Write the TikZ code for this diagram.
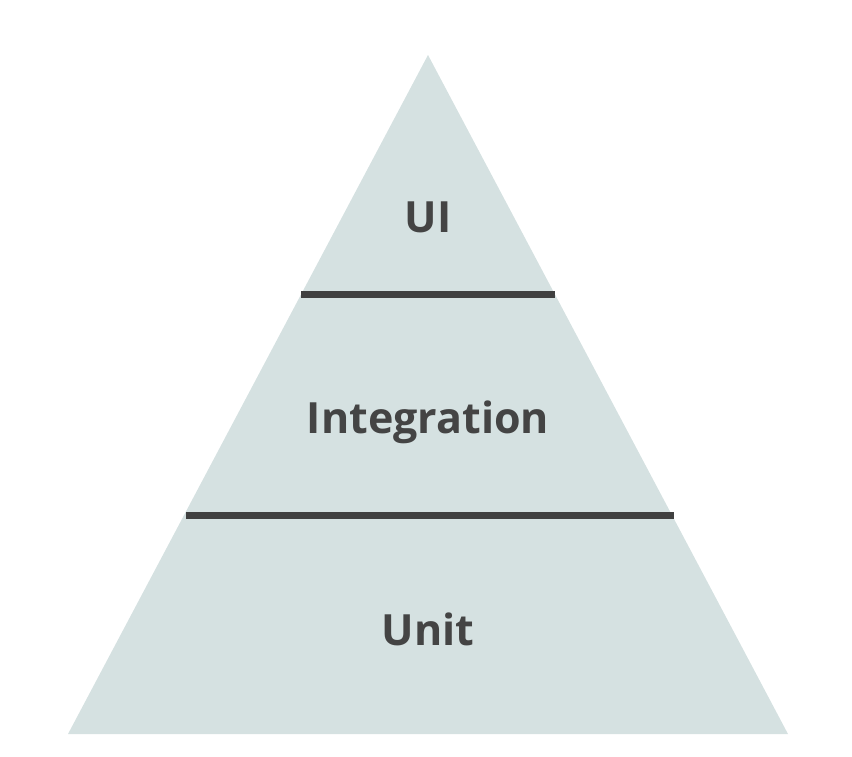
\documentclass[tikz,border=0pt]{standalone}
\usepackage{fontspec}
\setmainfont{Open Sans}
\definecolor{pyrfill}{RGB}{213,225,225}
\definecolor{pyrline}{RGB}{64,64,64}
\definecolor{pyrtext}{RGB}{68,68,68}
\begin{document}
\begin{tikzpicture}[x=1pt,y=-1pt,
  layer/.style={draw=pyrline,line width=6.5pt},
  lbl/.style={anchor=base,text=pyrtext,font=\fontsize{43}{50}\selectfont\bfseries,inner sep=0pt}]
\useasboundingbox (0,0) rectangle (852,756);
\coordinate (apex) at (428,55);
\coordinate (bl) at (68,734);
\coordinate (br) at (788,734);
\fill[pyrfill] (apex) -- (br) -- (bl) -- cycle;
\coordinate (l1a) at (301,294.5);
\coordinate (l1b) at (555,294.5);
\coordinate (l2a) at (186,515.5);
\coordinate (l2b) at (674,515.5);
\draw[layer] (l1a) -- (l1b);
\draw[layer] (l2a) -- (l2b);
\node[lbl] (ui) at (428,232) {UI};
\node[lbl] (integ) at (428,433) {Integration};
\node[lbl] (unit) at (428,645) {Unit};
\end{tikzpicture}
\end{document}
